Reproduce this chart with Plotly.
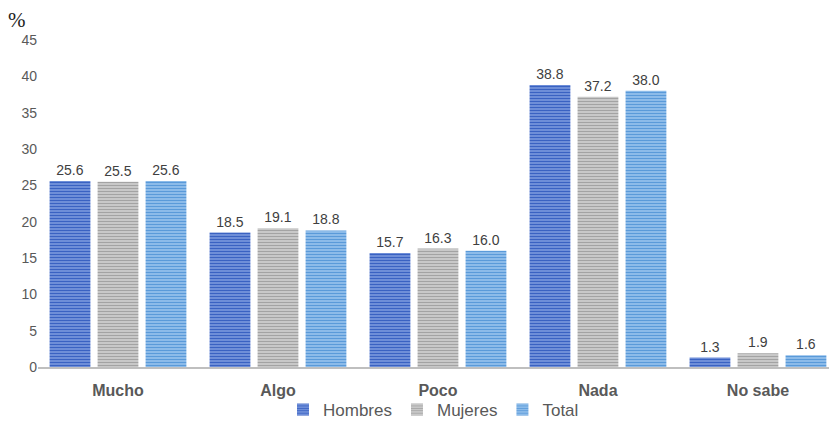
import plotly.graph_objects as go

categories = ["Mucho", "Algo", "Poco", "Nada", "No sabe"]
hombres = [25.6, 18.5, 15.7, 38.8, 1.3]
mujeres = [25.5, 19.1, 16.3, 37.2, 1.9]
total = [25.6, 18.8, 16.0, 38.0, 1.6]
y_ticks = [0, 5, 10, 15, 20, 25, 30, 35, 40, 45]

series = [
    ("Hombres", hombres, "#7f9de0", "#3a62c2"),
    ("Mujeres", mujeres, "#d4d4d4", "#a3a3a3"),
    ("Total", total, "#9cc6ef", "#5a9ad9"),
]

fig = go.Figure()
for name, vals, bg, fg in series:
    fig.add_trace(go.Bar(
        name=name,
        x=categories,
        y=vals,
        text=[f"{v:.1f}" for v in vals],
        textposition="outside",
        textfont=dict(family="Liberation Sans, Arial", size=14, color="#404040"),
        cliponaxis=False,
        marker=dict(
            color=bg,
            line=dict(width=0),
            pattern=dict(shape="-", fgcolor=fg, bgcolor=bg, size=3, solidity=0.5,
                         fillmode="replace"),
        ),
    ))

fig.update_layout(
    width=829,
    height=422,
    margin=dict(l=38, r=0, t=40, b=55, autoexpand=False),
    paper_bgcolor="white",
    plot_bgcolor="white",
    barmode="group",
    bargap=0.1,
    bargroupgap=0.15,
    showlegend=True,
    legend=dict(
        orientation="h",
        x=0.5, xanchor="center",
        yref="container",
        y=12 / 422, yanchor="middle",
        font=dict(family="Liberation Sans, Arial", size=17, color="#595959"),
        itemwidth=30,
        tracegroupgap=0,
        bgcolor="rgba(0,0,0,0)",
    ),
    xaxis=dict(
        range=[-0.5, 4.444],
        showline=True,
        linecolor="#bfbfbf",
        linewidth=2,
        ticks="outside",
        ticklen=8,
        tickcolor="rgba(0,0,0,0)",
        tickfont=dict(family="Liberation Sans, Arial", size=16, color="#595959",
                      weight="bold"),
        showgrid=False,
        zeroline=False,
    ),
    yaxis=dict(
        range=[0, 45],
        tickvals=y_ticks,
        showgrid=False,
        zeroline=False,
        showline=False,
        ticks="",
        tickfont=dict(family="Liberation Sans, Arial", size=14, color="#595959"),
    ),
    annotations=[
        dict(
            text="%",
            xref="paper", yref="paper",
            x=0, y=1, xanchor="left", yanchor="bottom",
            xshift=-32, yshift=6,
            showarrow=False,
            font=dict(family="Liberation Serif, Times New Roman", size=21, color="#222222"),
        )
    ],
)

fig.write_html("out.html")
